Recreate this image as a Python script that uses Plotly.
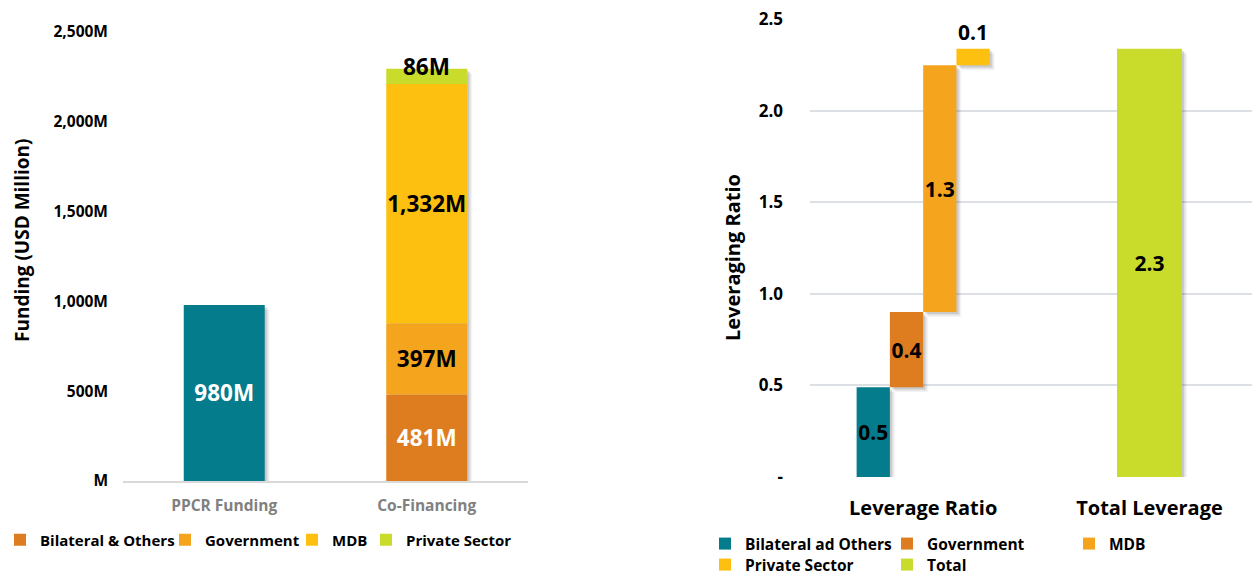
import plotly.graph_objects as go

# ---- Funding (USD million) ----
funding_categories = ["PPCR Funding", "Co-Financing"]
ppcr_funding = [980]
cofinancing_sources = ["Bilateral & Others", "Government", "MDB", "Private Sector"]
cofinancing_values = [481, 397, 1332, 86]
funding_tickvals = [0, 500, 1000, 1500, 2000, 2500]
funding_ticktext = ["M", "500M", "1,000M", "1,500M", "2,000M", "2,500M"]

# ---- Leveraging ratio ----
leverage_categories = ["Leverage Ratio", "Total Leverage"]
leverage_sources = ["Bilateral ad Others", "Government", "MDB", "Private Sector"]
leverage_values = [0.49, 0.41, 1.348, 0.09]
total_label = "Total"
leverage_tickvals = [0, 0.5, 1.0, 1.5, 2.0, 2.5]
leverage_ticktext = ["-", "0.5", "1.0", "1.5", "2.0", "2.5"]

TEAL = "#057C8C"
BILATERAL = "#DE7D1F"
GOVERNMENT = "#F5A41E"
MDB = "#FDC011"
PRIVATE = "#C9DB2B"

FONT = "Open Sans"
W, H = 1252, 576

# plot areas in pixels (left, right, bottom, top)
LEFT_AREA = (123, 528, 481, 32)
RIGHT_AREA = (810, 1252, 477, 19)
LEFT_XRANGE = [-0.5, 1.5]
LEFT_YRANGE = [0, 2500]
RIGHT_XRANGE = [-0.5, 1.453]
RIGHT_YRANGE = [0, 2.5]


def px_x(p):
    return p / W


def px_y(p):
    return (H - p) / H


def units_per_px(area, xr, yr):
    ux = (xr[1] - xr[0]) / (area[1] - area[0])
    uy = (yr[1] - yr[0]) / (area[2] - area[3])
    return ux, uy


LEFT_U = units_per_px(LEFT_AREA, LEFT_XRANGE, LEFT_YRANGE)
RIGHT_U = units_per_px(RIGHT_AREA, RIGHT_XRANGE, RIGHT_YRANGE)

# soft drop shadow layers: (pixel shift, opacity)
SHADOW_LAYERS = [(5, 0.06), (3.5, 0.10), (2, 0.14)]

fig = go.Figure()
shadow_traces = []
main_traces = []


def add_bar(cat, val, base, width, offset, color, units, axes, **kw):
    """Queue a bar together with its soft shadow."""
    ux, uy = units
    off = -width / 2 if offset is None else offset
    for shift, alpha in SHADOW_LAYERS:
        shadow_traces.append(go.Bar(
            x=[cat], y=[val], base=[base - shift * uy], width=width,
            offset=off + shift * ux,
            marker=dict(color=f"rgba(60,60,60,{alpha})", line=dict(width=0)),
            showlegend=False, hoverinfo="skip", xaxis=axes[0], yaxis=axes[1],
        ))
    main_traces.append(go.Bar(
        x=[cat], y=[val], base=[base], width=width, offset=off,
        marker=dict(color=color, line=dict(width=0)),
        xaxis=axes[0], yaxis=axes[1], hoverinfo="skip",
        textangle=0, constraintext="none", cliponaxis=False,
        insidetextanchor="middle", **kw,
    ))


LABEL_L = dict(family=FONT, size=22.5, weight="bold")
LABEL_R = dict(family=FONT, size=21, color="black", weight="bold")

# Left panel: PPCR funding bar
add_bar(funding_categories[0], ppcr_funding[0], 0, 0.4, None, TEAL, LEFT_U, ("x", "y"),
        text=[f"{ppcr_funding[0]:,}M"], textposition="inside",
        textfont=dict(LABEL_L, color="white"), showlegend=False)

# Left panel: stacked co-financing, each source pinned to its own legend slot
left_colors = [BILATERAL, GOVERNMENT, MDB, PRIVATE]
left_text_colors = ["white", "black", "black", "black"]
left_legends = ["legend", "legend4", "legend5", "legend6"]
base = 0
for name, val, col, tcol, lg in zip(cofinancing_sources, cofinancing_values,
                                    left_colors, left_text_colors, left_legends):
    is_top = name == cofinancing_sources[-1]
    add_bar(funding_categories[1], val, base, 0.4, None, col, LEFT_U, ("x", "y"),
            name=name, legend=lg,
            text=[f"{val:,}M"], textposition="none" if is_top else "inside",
            textfont=dict(LABEL_L, color=tcol))
    if is_top:
        fig.add_annotation(
            x=funding_categories[1], y=base + val, xref="x", yref="y",
            text=f"{val:,}M", showarrow=False, yanchor="bottom", yshift=-15,
            font=dict(LABEL_L, color="black"),
        )
    base += val

# Right panel: waterfall-style steps within one category
n = len(leverage_values)
sub_w = 0.147
right_colors = [TEAL, BILATERAL, GOVERNMENT, MDB]
base = 0.0
for i, (name, val, col) in enumerate(zip(leverage_sources, leverage_values, right_colors)):
    is_top = i == n - 1
    add_bar(leverage_categories[0], val, base, sub_w, -n / 2 * sub_w + i * sub_w, col,
            RIGHT_U, ("x2", "y2"), name=name,
            legend="legend2" if i < 3 else "legend3",
            text=[f"{val:.1f}"], textposition="outside" if is_top else "inside",
            textfont=LABEL_R)
    base += val

total_leverage = sum(leverage_values)
add_bar(leverage_categories[1], total_leverage, 0, 0.287, None, PRIVATE, RIGHT_U,
        ("x2", "y2"), name=total_label, legend="legend3",
        text=[f"{total_leverage:.1f}"], textposition="inside", textfont=LABEL_R)

for tr in shadow_traces + main_traces:
    fig.add_trace(tr)

# axis titles
TITLE_FONT = dict(family=FONT, color="black", weight="bold")
fig.add_annotation(text="Funding (USD Million)", textangle=-90, showarrow=False,
                   xref="paper", yref="paper", x=px_x(22), y=px_y(241),
                   xanchor="center", yanchor="middle", font=dict(TITLE_FONT, size=19))
fig.add_annotation(text="Leveraging Ratio", textangle=-90, showarrow=False,
                   xref="paper", yref="paper", x=px_x(732), y=px_y(258),
                   xanchor="center", yanchor="middle", font=dict(TITLE_FONT, size=20))

left_legend_font = dict(family=FONT, size=15, color="black", weight="bold")
right_legend_font = dict(family=FONT, size=15.5, color="black", weight="bold")


def h_legend(x_px, y_px, font, **extra):
    return dict(orientation="h", x=px_x(x_px), xanchor="left", y=px_y(y_px),
                yanchor="middle", bgcolor="rgba(0,0,0,0)", traceorder="normal",
                font=font, **extra)


fig.update_layout(
    template="none",
    width=W, height=H,
    margin=dict(l=0, r=0, t=0, b=0, autoexpand=False),
    paper_bgcolor="white", plot_bgcolor="rgba(0,0,0,0)",
    barmode="overlay",
    xaxis=dict(
        domain=[px_x(LEFT_AREA[0]), px_x(LEFT_AREA[1])], anchor="y", type="category",
        categoryorder="array", categoryarray=funding_categories,
        range=LEFT_XRANGE, showgrid=False, zeroline=False,
        showline=True, linecolor="#D9D9D9", linewidth=1.5,
        ticks="", ticklabelstandoff=10,
        tickfont=dict(family=FONT, size=15.5, color="#808080", weight="bold"),
        automargin=False,
    ),
    yaxis=dict(
        domain=[px_y(LEFT_AREA[2]), px_y(LEFT_AREA[3])], anchor="x", range=LEFT_YRANGE,
        tickvals=funding_tickvals, ticktext=funding_ticktext,
        showgrid=False, zeroline=False, showline=False, ticks="",
        ticklabelstandoff=14,
        tickfont=dict(family=FONT, size=15.5, color="black", weight="bold"),
        automargin=False,
    ),
    xaxis2=dict(
        domain=[px_x(RIGHT_AREA[0]), px_x(RIGHT_AREA[1])], anchor="y2", type="category",
        categoryorder="array", categoryarray=leverage_categories,
        range=RIGHT_XRANGE, showgrid=False, zeroline=False, showline=False,
        ticks="", ticklabelstandoff=17,
        tickfont=dict(family=FONT, size=20, color="black", weight="bold"),
        automargin=False,
    ),
    yaxis2=dict(
        domain=[px_y(RIGHT_AREA[2]), px_y(RIGHT_AREA[3])], anchor="x2", range=RIGHT_YRANGE,
        tickvals=leverage_tickvals, ticktext=leverage_ticktext,
        showgrid=True, gridcolor="#DCDFE3", gridwidth=1.5,
        zeroline=False, showline=False, ticks="", ticklabelstandoff=26,
        tickfont=dict(family=FONT, size=17, color="black", weight="bold"),
        automargin=False,
    ),
    legend=h_legend(0, 540, left_legend_font),
    legend4=h_legend(165, 540, left_legend_font),
    legend5=h_legend(292, 540, left_legend_font),
    legend6=h_legend(366, 540, left_legend_font),
    legend2=h_legend(705, 544, right_legend_font, entrywidth=137, entrywidthmode="pixels"),
    legend3=h_legend(705, 565, right_legend_font, entrywidth=137, entrywidthmode="pixels"),
    showlegend=True,
)

fig.write_html("out.html")
